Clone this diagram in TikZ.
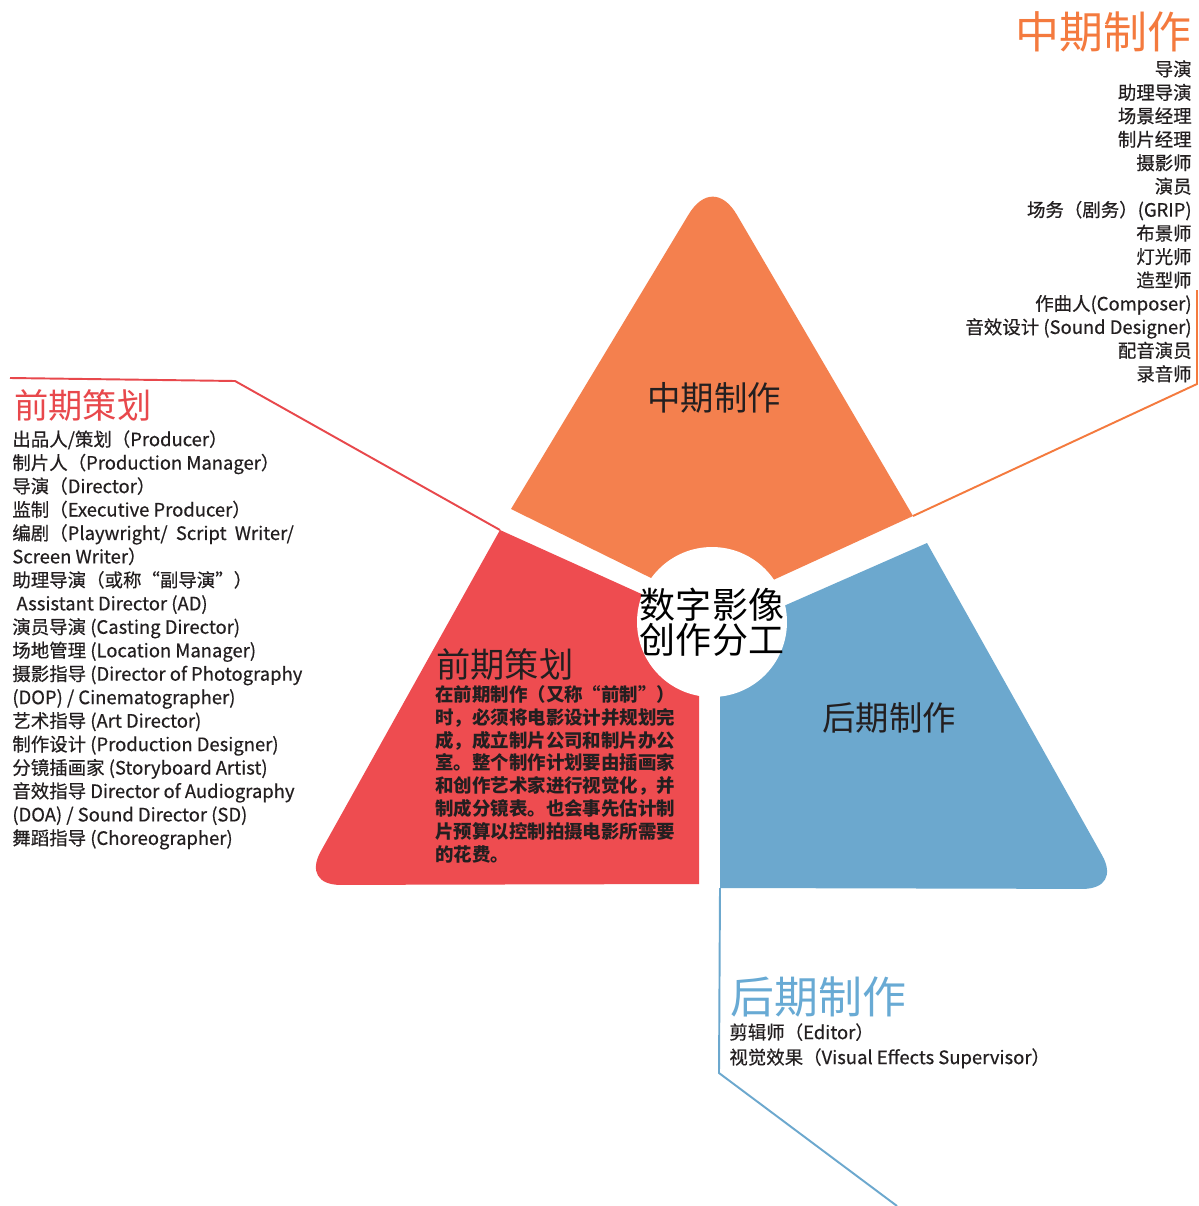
\documentclass[tikz,border=0pt]{standalone}
\usepackage{fontspec}
\setmainfont{Noto Sans CJK SC}
\newfontfamily\listfont[FakeBold=0.45]{Noto Sans CJK SC}
\usepackage{tikz}
\usepackage{xcolor}
\usetikzlibrary{positioning,calc}

\definecolor{midorange}{RGB}{244,128,78}
\definecolor{midtitle}{RGB}{244,122,62}
\definecolor{prered}{RGB}{238,76,80}
\definecolor{pretitle}{RGB}{232,72,76}
\definecolor{postblue}{RGB}{108,168,206}
\definecolor{posttitle}{RGB}{104,170,212}
\definecolor{inkgray}{RGB}{35,31,32}

\begin{document}
\begin{tikzpicture}[x=0.02cm,y=-0.02cm,
  leader/.style={line width=1.1pt},
  listtext/.style={text=inkgray,font=\listfont\fontsize{10.5}{13.35}\selectfont},
  bigtitle/.style={font=\fontsize{25}{27}\selectfont},
  innerlabel/.style={text=inkgray,font=\fontsize{19}{22}\selectfont}]
\tikzstyle{every node}+=[inner sep=0pt]
\fill [white] (0,0) rectangle (1198,1206);
\useasboundingbox (0,0) rectangle (1198,1206);
% corners of the three pieces
\coordinate (midTop) at (713,174);
\coordinate (midRight) at (913,516);
\coordinate (midIn) at (712,608);
\coordinate (midLeft) at (511,509);
\coordinate (preTop) at (500,530);
\coordinate (preLeft) at (302,885);
\coordinate (preRight) at (699,884);
\coordinate (preIn) at (699,620);
\coordinate (postTop) at (927,543);
\coordinate (postRight) at (1121,889);
\coordinate (postLeft) at (720,888);
\coordinate (postIn) at (720,634);
\coordinate (hub) at (712,622);
% leader ends
\coordinate (preKnee) at (235,381);
\coordinate (preEnd) at (10,378);
\coordinate (midKnee) at (1197,384);
\coordinate (midEnd) at (1197,290);
\coordinate (postKnee) at (719,1073);
\coordinate (postEnd) at (897,1206);
% pieces
\fill [midorange] (midLeft) -- ($(midTop)!27pt!(midLeft)$) .. controls ($(midTop)!11pt!(midLeft)$) and ($(midTop)!11pt!(midRight)$) .. ($(midTop)!27pt!(midRight)$) -- (midRight) -- (midIn) -- cycle;
\fill [prered] (preTop) -- ($(preLeft)!22pt!(preTop)$) .. controls ($(preLeft)!9pt!(preTop)$) and ($(preLeft)!9pt!(preRight)$) .. ($(preLeft)!22pt!(preRight)$) -- (preRight) -- (preIn) -- cycle;
\fill [postblue] (postTop) -- ($(postRight)!22pt!(postTop)$) .. controls ($(postRight)!9pt!(postTop)$) and ($(postRight)!9pt!(postLeft)$) .. ($(postRight)!22pt!(postLeft)$) -- (postLeft) -- (postIn) -- cycle;
\fill [white] (hub) circle [radius=1.5cm];
% leaders
\draw [leader,pretitle] (preEnd) -- (preKnee) -- (preTop);
\draw [leader,midtitle] (midRight) -- (midKnee) -- (midEnd);
\draw [leader,postblue] (postLeft) -- (postKnee) -- (postEnd);
% labels on the pieces
\node (hubtext) at (hub) [text=black,align=center,font=\fontsize{20.5}{18.8}\selectfont] {数字影像\\创作分工};
\node (midlabel) at (714,398) [innerlabel] {中期制作};
\node (postlabel) at (889,718) [innerlabel] {后期制作};
\node (prelabel) at (436,664) [innerlabel,anchor=west,font=\fontsize{19.5}{22}\selectfont] {前期策划};
\node (pretext) at (435,685) [anchor=north west,text=inkgray,align=left,font=\bfseries\fontsize{10.5}{13}\selectfont] {在前期制作（又称“前制”）\\时，必须将电影设计并规划完\\成，成立制片公司和制片办公\\室。整个制作计划要由插画家\\和创作艺术家进行视觉化，并\\制成分镜表。也会事先估计制\\片预算以控制拍摄电影所需要\\的花费。};
% lists
\node (pretitle) at (14,405) [anchor=west,text=pretitle,font=\fontsize{19.5}{22}\selectfont] {前期策划};
\node (prelist) at (12,430) [anchor=north west,listtext,align=left] {出品人/策划（Producer）\\制片人（Production Manager）\\导演（Director）\\监制（Executive Producer）\\编剧（Playwright/\ \ Script\ \ Writer/\\Screen Writer）\\助理导演（或称“副导演”）\\\ Assistant Director (AD)\\演员导演 (Casting Director)\\场地管理 (Location Manager)\\摄影指导 (Director of Photography\\(DOP) / Cinematographer)\\艺术指导 (Art Director)\\制作设计 (Production Designer)\\分镜插画家 (Storyboard Artist)\\音效指导 Director of Audiography\\(DOA) / Sound Director (SD)\\舞蹈指导 (Choreographer)};
\node (midtitle) at (1192,32) [anchor=east,bigtitle,text=midtitle] {中期制作};
\node (midlist) at (1192,60) [anchor=north east,listtext,align=right] {导演\\助理导演\\场景经理\\制片经理\\摄影师\\演员\\场务（剧务）(GRIP)\\布景师\\灯光师\\造型师\\作曲人(Composer)\\音效设计 (Sound Designer)\\配音演员\\录音师};
\node (posttitle) at (730,997) [anchor=west,bigtitle,text=posttitle] {后期制作};
\node (postlist) at (729,1023) [anchor=north west,listtext,align=left,font=\listfont\fontsize{10.5}{14.2}\selectfont] {剪辑师（Editor）\\视觉效果（Visual Effects Supervisor）};
\end{tikzpicture}
\end{document}
